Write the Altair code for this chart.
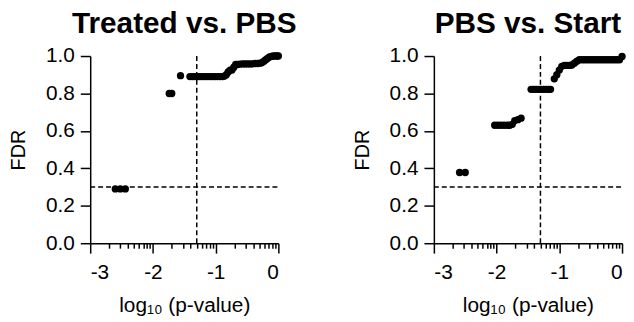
import math
import altair as alt
import pandas as pd

# ---- data ----
TP_LOGP = [-2.60, -2.52, -2.44, -1.74, -1.70, -1.56,
           -1.41, -1.37, -1.33, -1.29, -1.25, -1.21, -1.17, -1.13, -1.09, -1.05, -1.01, -0.97, -0.93, -0.89,
           -0.86, -0.83, -0.80, -0.77, -0.74, -0.71, -0.68,
           -0.65, -0.61, -0.57, -0.53, -0.49, -0.45, -0.41, -0.37, -0.33, -0.29,
           -0.26, -0.23, -0.20, -0.17, -0.14, -0.11, -0.08, -0.05, -0.02, 0.00]
TP_FDR = [0.29, 0.29, 0.29, 0.80, 0.80, 0.895,
          0.89, 0.89, 0.89, 0.89, 0.89, 0.89, 0.89, 0.89, 0.89, 0.89, 0.89, 0.89, 0.89, 0.89,
          0.893, 0.90, 0.915, 0.925, 0.925, 0.94, 0.955,
          0.955, 0.957, 0.958, 0.958, 0.958, 0.958, 0.958, 0.96, 0.96, 0.962,
          0.965, 0.972, 0.98, 0.988, 0.995, 0.998, 1.0, 1.0, 1.0, 1.0]

PS_LOGP = [-2.59, -2.50,
           -2.03, -1.98, -1.93, -1.88, -1.83, -1.79, -1.75, -1.71, -1.66, -1.61,
           -1.45, -1.41, -1.37, -1.33, -1.29, -1.25, -1.21, -1.17, -1.14,
           -1.08, -1.04, -1.00, -0.96, -0.92, -0.88, -0.84, -0.80, -0.76, -0.72, -0.68,
           -0.64, -0.60, -0.56, -0.52, -0.48, -0.44, -0.40, -0.36, -0.32, -0.28, -0.24, -0.20,
           -0.16, -0.12, -0.08, -0.04, 0.00]
PS_FDR = [0.378, 0.378,
          0.63, 0.63, 0.63, 0.63, 0.63, 0.63, 0.635, 0.655, 0.66, 0.668,
          0.822, 0.822, 0.822, 0.822, 0.822, 0.822, 0.822, 0.822, 0.822,
          0.878, 0.90, 0.925, 0.945, 0.95, 0.95, 0.95, 0.952, 0.962, 0.972, 0.98,
          0.98, 0.98, 0.98, 0.98, 0.98, 0.98, 0.98, 0.98, 0.98, 0.98, 0.98, 0.98,
          0.98, 0.98, 0.98, 0.98, 0.998]

TITLES = ["Treated vs. PBS", "PBS vs. Start"]
FDR_CUTOFF = 0.3
P_CUTOFF = 0.05
X_MAJOR = [-3, -2, -1, 0]
Y_TICKS = [0.0, 0.2, 0.4, 0.6, 0.8, 1.0]
MINOR_MULT = [2, 3, 4, 5, 6, 7, 8, 9]
X_MINOR = [d + math.log10(k) for d in X_MAJOR[:-1] for k in MINOR_MULT]

FONT = "Liberation Sans"


def panel(logp, fdr, title):
    pts = pd.DataFrame({"logp": logp, "fdr": fdr})
    xs = alt.Scale(domain=[-3, 0], nice=False, zero=False)
    ys = alt.Scale(domain=[0, 1], nice=False)
    yaxis = alt.Axis(values=Y_TICKS, format=".1f", title="FDR", tickSize=10,
                     labelPadding=6, labelOverlap=False, titleFontSize=20, titlePadding=17)
    points = alt.Chart(pts).mark_circle(size=55, color="black", opacity=1).encode(
        x=alt.X("logp:Q", scale=xs,
                axis=alt.Axis(values=X_MAJOR, title="log₁₀ (p-value)", orient="bottom",
                              tickSize=10, labelPadding=9, labelExpr="'' + datum.value",
                              labelOverlap=False, titleFontSize=21, titlePadding=12)),
        y=alt.Y("fdr:Q", scale=ys, axis=yaxis),
    )
    hline = alt.Chart(pd.DataFrame({"fdr": [FDR_CUTOFF], "x": [-3], "x2": [0]})).mark_rule(
        color="black", strokeWidth=1.5, strokeDash=[5, 3]
    ).encode(x=alt.X("x:Q", scale=xs, axis=None), x2="x2:Q",
             y=alt.Y("fdr:Q", scale=ys, axis=yaxis))
    vline = alt.Chart(pd.DataFrame({"x": [math.log10(P_CUTOFF)], "fdr": [0], "fdr2": [1]})).mark_rule(
        color="black", strokeWidth=1.5, strokeDash=[5, 3]
    ).encode(
        x=alt.X("x:Q", scale=xs,
                axis=alt.Axis(values=X_MINOR, labels=False, domain=False, title=None,
                              orient="bottom", tickSize=5)),
        y=alt.Y("fdr:Q", scale=ys, axis=yaxis), y2="fdr2:Q")
    return alt.layer(points, hline, vline).resolve_axis(x="independent").properties(
        width=190, height=189,
        title=alt.TitleParams(title, fontSize=30, fontWeight="bold", font=FONT,
                              anchor="middle", frame="group", offset=6, color="black"),
    )


chart = alt.hconcat(
    panel(TP_LOGP, TP_FDR, TITLES[0]),
    panel(PS_LOGP, PS_FDR, TITLES[1]),
    spacing=55,
).configure_view(stroke=None).configure_axis(
    labelFont=FONT, titleFont=FONT, labelFontSize=21, labelColor="black",
    titleColor="black", titleFontWeight="normal", domainColor="black", tickColor="black",
    domainWidth=1.5, tickWidth=1.5, grid=False,
).properties(padding=0)

chart.save("out.html", embed_options={"renderer": "svg", "actions": False})
